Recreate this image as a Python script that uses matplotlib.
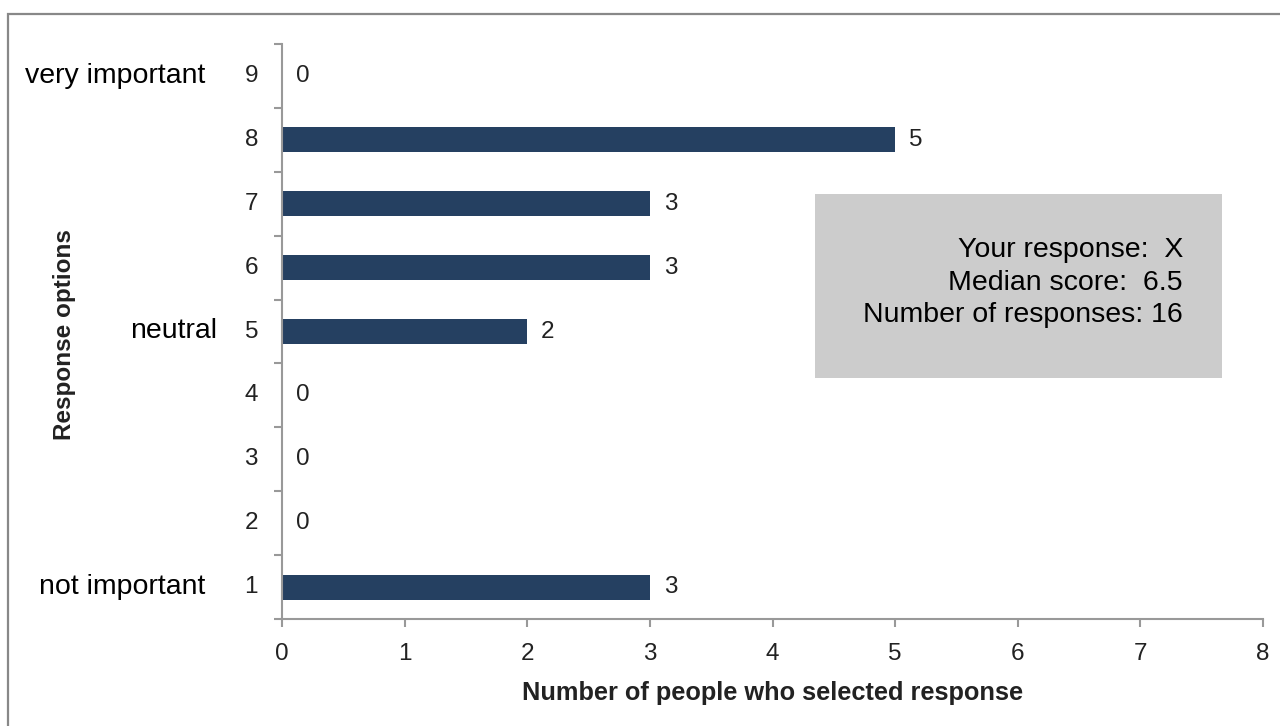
import matplotlib
matplotlib.use("Agg")
import matplotlib.pyplot as plt
from matplotlib.patches import Rectangle

plt.rcParams['font.family'] = ['Liberation Sans', 'DejaVu Sans']

# Data
options = [1, 2, 3, 4, 5, 6, 7, 8, 9]
counts = [3, 0, 0, 0, 2, 3, 3, 5, 0]
anchor_labels = {9: "very important", 5: "neutral", 1: "not important"}
xticks = [0, 1, 2, 3, 4, 5, 6, 7, 8]
info_lines = ["Your response:  X", "Median score:  6.5", "Number of responses: 16"]

W, H = 1280, 726
fig = plt.figure(figsize=(W / 100, H / 100), dpi=100)

# outer border (top and left visible)
fig.patches.append(Rectangle((8 / W, -0.1), 1.2, 1 - 14 / H + 0.1, transform=fig.transFigure,
                             fill=False, edgecolor='#888888', linewidth=1.6))

ax = fig.add_axes([282 / W, 1 - 619 / H, (1263 - 282) / W, (619 - 44) / H])
bar_color = '#254061'
ax.barh(options, counts, height=0.39, color=bar_color)

NUM_FS = 17.5
ax.set_xlim(0, 8)
ax.set_ylim(0.5, 9.5)
ax.set_xticks(xticks)
ax.set_xticklabels([str(t) for t in xticks], fontsize=NUM_FS, color='#222222')

# y ticks at category boundaries, labels at centres
ax.set_yticks([o - 0.5 for o in options] + [9.5])
ax.set_yticklabels([])
ax.tick_params(axis='y', which='major', length=6, width=1.5, color='#999999', direction='out')
ax.tick_params(axis='x', which='major', length=6, width=1.5, color='#999999', direction='out', pad=11)
for o in options:
    ax.annotate(str(o), xy=(0, o), xycoords=('axes fraction', 'data'), xytext=(-24, 0),
                textcoords='offset pixels', fontsize=NUM_FS, color='#222222',
                ha='right', va='center')

for s in ['top', 'right']:
    ax.spines[s].set_visible(False)
for s in ['left', 'bottom']:
    ax.spines[s].set_color('#999999')
    ax.spines[s].set_linewidth(1.5)

# value labels
for o, c in zip(options, counts):
    ax.annotate(str(c), xy=(c, o), xytext=(14, 0), textcoords='offset pixels',
                fontsize=NUM_FS, color='#222222', ha='left', va='center')

ax.set_xlabel("Number of people who selected response", fontsize=18.3, fontweight='bold',
              color='#222222', labelpad=12)

# anchor labels
label_right = {9: 205, 5: 217, 1: 205}
for o, t in anchor_labels.items():
    ydisp = ax.transData.transform((0, o))[1]
    fig.text(label_right[o] / W, ydisp / H, t, fontsize=20.5, color='black', ha='right', va='center')

fig.text(64 / W, 1 - 335 / H, "Response options", rotation=90, fontsize=17.5, fontweight='bold',
         color='#222222', ha='center', va='center')

# info box
fig.patches.append(Rectangle((815 / W, 1 - 378 / H), (1222 - 815) / W, (378 - 194) / H,
                             transform=fig.transFigure, facecolor='#cccccc', edgecolor='none'))
for i, line in enumerate(info_lines):
    fig.text(1183 / W, 1 - (250 + 32.5 * i) / H, line, fontsize=20.5, color='black',
             ha='right', va='center')

fig.savefig("out.png", dpi=100)
